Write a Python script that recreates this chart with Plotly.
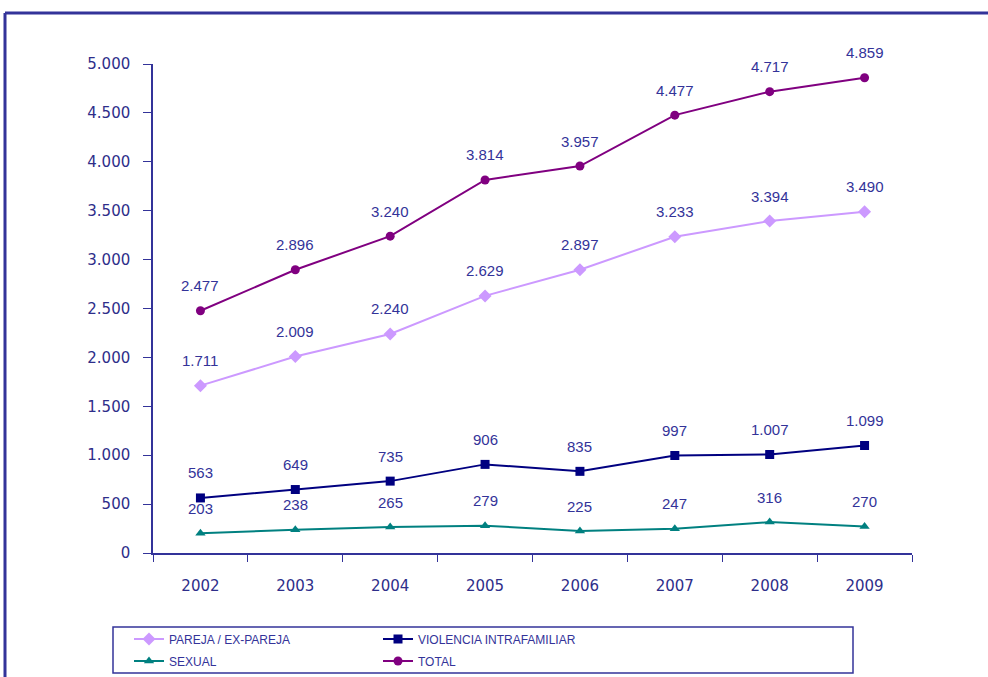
import plotly.graph_objects as go

years = ["2002", "2003", "2004", "2005", "2006", "2007", "2008", "2009"]
pareja = [1711, 2009, 2240, 2629, 2897, 3233, 3394, 3490]
violencia = [563, 649, 735, 906, 835, 997, 1007, 1099]
sexual = [203, 238, 265, 279, 225, 247, 316, 270]
total = [2477, 2896, 3240, 3814, 3957, 4477, 4717, 4859]
y_ticks = [0, 500, 1000, 1500, 2000, 2500, 3000, 3500, 4000, 4500, 5000]

BLUE = "#333399"
W, H = 988, 677
H_PLOT = 489.0

series = [
    ("PAREJA / EX-PAREJA", pareja, "#CC99FF", "diamond", 10, "legend"),
    ("VIOLENCIA INTRAFAMILIAR", violencia, "#000080", "square", 9, "legend2"),
    ("SEXUAL", sexual, "#008080", "triangle-up", 9, "legend3"),
    ("TOTAL", total, "#800080", "circle", 9, "legend4"),
]

fig = go.Figure()
annotations = []
for name, vals, color, sym, size, lg in series:
    fig.add_trace(go.Scatter(
        x=years, y=vals, name=name, mode="lines+markers",
        line=dict(color=color, width=2),
        marker=dict(symbol=sym, size=size, color=color),
        legend=lg,
    ))
    for i, yv in enumerate(vals):
        annotations.append(dict(
            x=i, y=yv, xref="x", yref="y",
            text=f"{yv:,}".replace(",", "."), showarrow=False,
            yshift=25, font=dict(family="Liberation Sans", size=15, color=BLUE),
        ))

def px_x(p):
    return (p - 153) / 759.0

def px_y(p):
    return (553 - p) / H_PLOT

legend_common = dict(
    orientation="v", xanchor="left", yanchor="middle",
    xref="container", yref="container",
    font=dict(family="Liberation Sans", size=12, color=BLUE),
    bgcolor="rgba(0,0,0,0)", tracegroupgap=0,
)

fig.update_layout(
    width=W, height=H,
    autosize=False,
    margin=dict(l=153, r=76, t=64, b=124, autoexpand=False),
    paper_bgcolor="white", plot_bgcolor="white",
    separators=",.",
    showlegend=True,
    annotations=annotations,
    legend=dict(x=129 / W, y=1 - 639 / H, **legend_common),
    legend2=dict(x=378 / W, y=1 - 639 / H, **legend_common),
    legend3=dict(x=129 / W, y=1 - 661 / H, **legend_common),
    legend4=dict(x=378 / W, y=1 - 661 / H, **legend_common),
    xaxis=dict(
        type="category", range=[-0.5, 7.5], showline=True, linecolor=BLUE, linewidth=1.5,
        ticks="outside", tickson="boundaries", ticklen=7, tickcolor=BLUE,
        showgrid=False, zeroline=False, automargin=False,
        tickfont=dict(family="DejaVu Sans", size=15, color="#2E2E8A"),
        ticklabelstandoff=18,
    ),
    yaxis=dict(
        range=[0, 5000], tickvals=y_ticks, tickformat=",d",
        showline=True, linecolor=BLUE, linewidth=1.5,
        ticks="outside", ticklen=8, tickcolor=BLUE,
        showgrid=False, zeroline=False, automargin=False,
        tickfont=dict(family="DejaVu Sans", size=15, color="#2E2E8A"),
        ticklabelstandoff=10,
    ),
    shapes=[
        dict(type="rect", xref="paper", yref="paper",
             x0=px_x(113), x1=px_x(853), y0=px_y(673), y1=px_y(627),
             line=dict(color=BLUE, width=1.5), fillcolor="rgba(0,0,0,0)"),
        dict(type="line", xref="paper", yref="paper",
             x0=px_x(5), x1=px_x(995), y0=px_y(13), y1=px_y(13),
             line=dict(color=BLUE, width=3)),
        dict(type="line", xref="paper", yref="paper",
             x0=px_x(5), x1=px_x(5), y0=px_y(13), y1=px_y(690),
             line=dict(color=BLUE, width=3)),
    ],
)

fig.write_html(
    "out.html",
    config={"responsive": False, "displayModeBar": False},
    post_script="document.body.style.margin='0';",
)
